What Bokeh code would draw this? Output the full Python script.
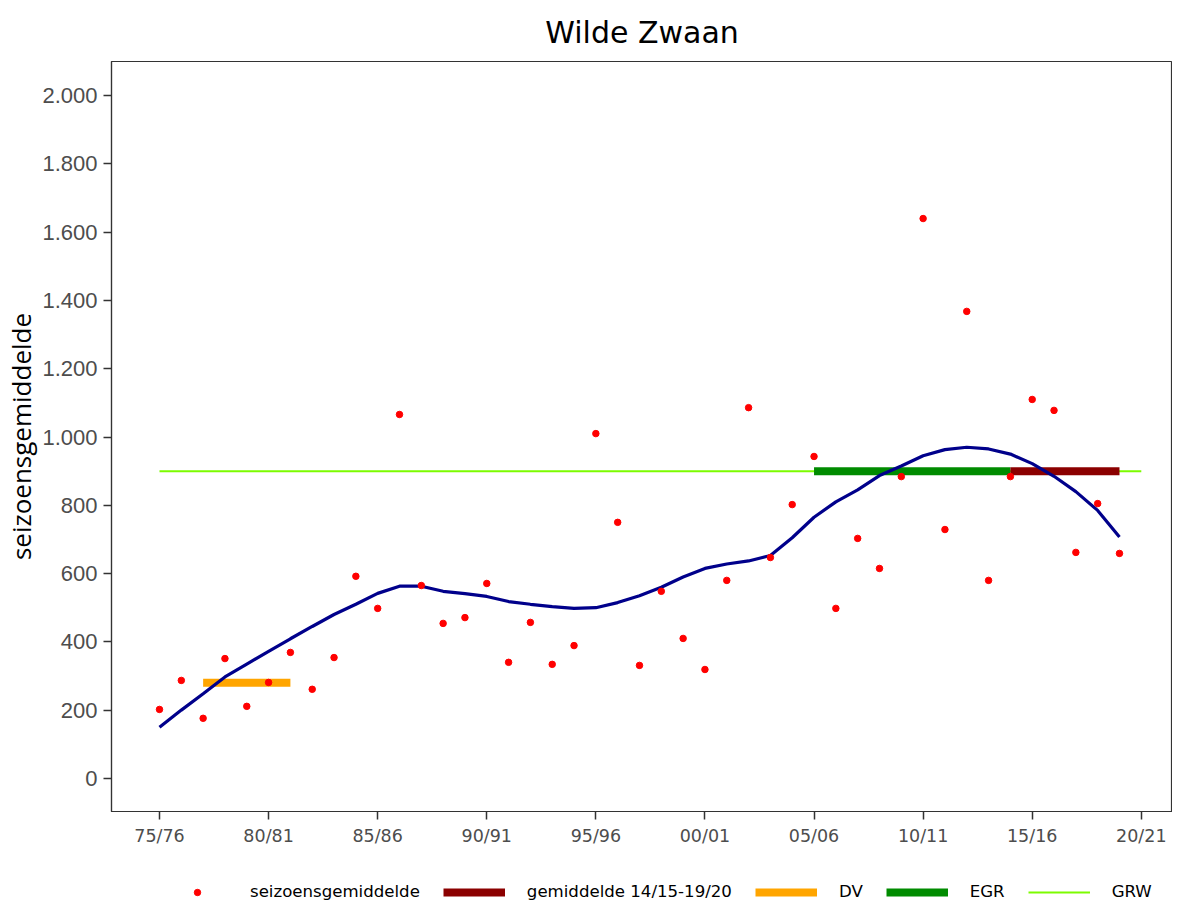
from bokeh.plotting import figure
from bokeh.models import Range1d, FixedTicker, Legend, LegendItem
from bokeh.layouts import column
from bokeh.embed import file_html
from bokeh.resources import INLINE

# ---- data ----
seasons = ["75/76", "76/77", "77/78", "78/79", "79/80", "80/81", "81/82", "82/83", "83/84", "84/85",
           "85/86", "86/87", "87/88", "88/89", "89/90", "90/91", "91/92", "92/93", "93/94", "94/95",
           "95/96", "96/97", "97/98", "98/99", "99/00", "00/01", "01/02", "02/03", "03/04", "04/05",
           "05/06", "06/07", "07/08", "08/09", "09/10", "10/11", "11/12", "12/13", "13/14", "14/15",
           "15/16", "16/17", "17/18", "18/19", "19/20"]
season_avg = [202, 287, 176, 351, 211, 281, 369, 261, 354, 592,
              498, 1066, 565, 454, 471, 571, 340, 457, 334, 389,
              1010, 750, 331, 548, 410, 319, 580, 1086, 647, 802,
              943, 498, 703, 615, 884, 1640, 729, 1368, 580, 884,
              1110, 1078, 662, 805, 659]
trend = [150, 200, 248, 297, 335, 372, 409, 445, 480, 510,
         542, 563, 563, 548, 541, 533, 518, 510, 503, 498,
         500, 515, 535, 560, 590, 615, 628, 637, 653, 705,
         765, 810, 845, 887, 915, 945, 963, 970, 965, 950,
         922, 885, 840, 785, 707]

tick_labels = ["75/76", "80/81", "85/86", "90/91", "95/96", "00/01", "05/06", "10/11", "15/16", "20/21"]
tick_years = [1975, 1980, 1985, 1990, 1995, 2000, 2005, 2010, 2015, 2020]

y_ticks = [0, 200, 400, 600, 800, 1000, 1200, 1400, 1600, 1800, 2000]
y_tick_labels = ["0", "200", "400", "600", "800", "1.000", "1.200", "1.400", "1.600", "1.800", "2.000"]

dv_span = ("77/78", "81/82"); dv_value = 280
egr_span = ("05/06", "14/15"); egr_value = 900
gem_span = ("14/15", "19/20"); gem_value = 900
grw_span = ("75/76", "20/21"); grw_value = 900

C_PTS = "#FF0000"
C_GEM = "#8B0000"
C_DV = "#FFA500"
C_EGR = "#008B00"
C_GRW = "#7CFC00"
C_TREND = "#00008B"

def season_x(s):
    yy = int(s[:2])
    return 1900 + yy if yy >= 50 else 2000 + yy

x = [season_x(s) for s in seasons]

# ---- main figure ----
p = figure(frame_width=1061, frame_height=750, output_backend="svg", toolbar_location=None,
           x_range=Range1d(1972.8, 2021.43), y_range=Range1d(-97, 2100),
           min_border_left=105, min_border_right=0, min_border_top=53, min_border_bottom=63)

p.title.text = "Wilde Zwaan"
p.title.align = "center"
p.title.offset = 10
p.title.text_font = "DejaVu Sans"
p.title.text_font_size = "30px"
p.title.text_font_style = "normal"
p.title.text_color = "black"
p.title.standoff = 24

p.xgrid.visible = False
p.ygrid.visible = False
p.outline_line_color = "#333333"
p.outline_line_width = 1.2

for ax in (p.xaxis[0], p.yaxis[0]):
    ax.axis_line_color = "#333333"
    ax.axis_line_width = 1.2
    ax.major_tick_line_color = "#333333"
    ax.major_tick_line_width = 1.5
    ax.major_tick_out = 8
    ax.major_tick_in = 0
    ax.minor_tick_line_color = None
    ax.major_label_text_color = "#4D4D4D"

p.xaxis.ticker = FixedTicker(ticks=tick_years)
p.xaxis.major_label_overrides = {t: l for t, l in zip(tick_years, tick_labels)}
p.xaxis.major_label_text_font = "DejaVu Sans"
p.xaxis.major_label_text_font_size = "17.5px"
p.xaxis.major_label_standoff = 6

p.yaxis.ticker = FixedTicker(ticks=y_ticks)
p.yaxis.major_label_overrides = {t: l for t, l in zip(y_ticks, y_tick_labels)}
p.yaxis.major_label_text_font = "Liberation Sans"
p.yaxis.major_label_text_font_size = "22px"
p.yaxis.major_label_standoff = 6
p.yaxis.axis_label = "seizoensgemiddelde"
p.yaxis.axis_label_text_font = "Open Sans"
p.yaxis.axis_label_text_font_size = "26px"
p.yaxis.axis_label_text_font_style = "normal"
p.yaxis.axis_label_text_color = "black"
p.yaxis.axis_label_standoff = 0

# reference lines
p.line([season_x(grw_span[0]), season_x(grw_span[1])], [grw_value, grw_value],
       line_color=C_GRW, line_width=2)
p.line([season_x(dv_span[0]), season_x(dv_span[1])], [dv_value, dv_value],
       line_color=C_DV, line_width=8)
p.line([season_x(egr_span[0]), season_x(egr_span[1])], [egr_value, egr_value],
       line_color=C_EGR, line_width=8)
p.line([season_x(gem_span[0]), season_x(gem_span[1])], [gem_value, gem_value],
       line_color=C_GEM, line_width=8)

# trend curve
p.line(x, trend, line_color=C_TREND, line_width=3.2)

# season averages
p.scatter(x, season_avg, size=6.5, fill_color=C_PTS, line_color=C_PTS)

# ---- legend strip ----
lg = figure(width=1166, height=26, output_backend="svg", toolbar_location=None,
            x_axis_type=None, y_axis_type=None,
            min_border_left=0, min_border_right=0, min_border_top=0, min_border_bottom=0,
            x_range=Range1d(0, 1), y_range=Range1d(0, 1))
lg.outline_line_color = None

# off-screen placeholder points so the legend glyphs have something to draw
off = [-10]
l_pts = lg.scatter(off, off, size=6.5, fill_color=C_PTS, line_color=C_PTS)
l_gem = lg.line(off, off, line_color=C_GEM, line_width=8)
l_dv = lg.line(off, off, line_color=C_DV, line_width=8)
l_egr = lg.line(off, off, line_color=C_EGR, line_width=8)
l_grw = lg.line(off, off, line_color=C_GRW, line_width=2)

legend = Legend(items=[
    LegendItem(label="seizoensgemiddelde", renderers=[l_pts]),
    LegendItem(label="gemiddelde 14/15-19/20", renderers=[l_gem]),
    LegendItem(label="DV", renderers=[l_dv]),
    LegendItem(label="EGR", renderers=[l_egr]),
    LegendItem(label="GRW", renderers=[l_grw]),
], orientation="horizontal", location=(55, -1))
legend.glyph_width = 62
legend.glyph_height = 16
legend.label_standoff = 22
legend.spacing = 23
legend.padding = 0
legend.margin = 0
legend.label_width = 0
legend.label_text_font = "DejaVu Sans"
legend.label_text_font_size = "16.6px"
legend.label_text_color = "black"
legend.border_line_alpha = 0
legend.background_fill_alpha = 0
lg.add_layout(legend, "center")

layout = column(p, lg, spacing=0)
open("out.html", "w").write(file_html(layout, INLINE))
